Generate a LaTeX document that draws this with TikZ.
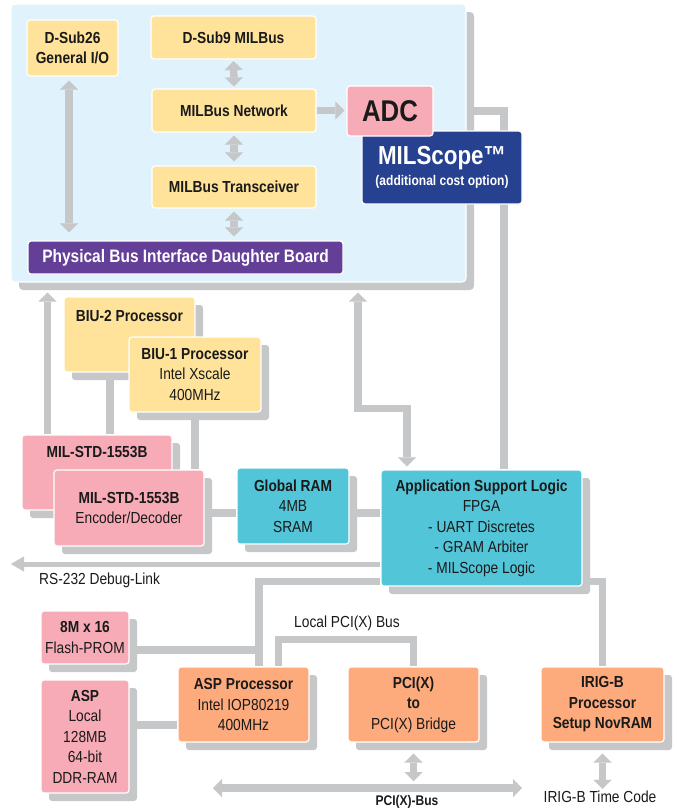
\documentclass[tikz,border=0pt]{standalone}
\usepackage{fontspec}
\setmainfont[FakeStretch=0.86]{Liberation Sans}
\usetikzlibrary{arrows.meta,shadows}
\definecolor{panelblue}{HTML}{E0F2FC}
\definecolor{boxyellow}{HTML}{FFE39B}
\definecolor{boxpink}{HTML}{F7ABB6}
\definecolor{boxteal}{HTML}{53C5D9}
\definecolor{boxorange}{HTML}{FDAA7D}
\definecolor{boardpurple}{HTML}{633F97}
\definecolor{scopeblue}{HTML}{26418F}
\definecolor{linegray}{HTML}{C6C7C9}
\definecolor{txtblack}{HTML}{1A1A1A}
\pgfdeclarelayer{panellayer}
\pgfdeclarelayer{linelayer}
\pgfsetlayers{panellayer,linelayer,main}
\tikzset{
	blk/.style={rounded corners=3pt, draw=white, line width=1.2pt, align=center, inner sep=1pt, text=txtblack, font=\fontsize{16}{20.5}\selectfont},
	shd/.style={drop shadow={shadow xshift=8pt, shadow yshift=-8pt, fill=linegray, opacity=1}},
	lbl/.style={text=txtblack, inner sep=1pt, font=\fontsize{16}{20.5}\selectfont},
	lblb/.style={lbl, font=\fontsize{16}{20.5}\selectfont\bfseries},
	gline/.style={draw=linegray, line width=7.5pt},
	dbl/.style={gline, {Triangle[width=18pt,length=9pt,line width=0.01pt]}-{Triangle[width=18pt,length=9pt,line width=0.01pt]}},
	sgl/.style={gline, -{Triangle[width=18pt,length=9pt,line width=0.01pt]}},
}

\begin{document}
\begin{tikzpicture}[x=1pt,y=-1pt]
			%%%%% START %%%%%
			\useasboundingbox (0,0) rectangle (678,809);
			
			% daughter board panel
			\begin{pgfonlayer}{panellayer}
				\node[rounded corners=4pt, fill=panelblue, draw=white, line width=1.2pt, shd, minimum width=455, minimum height=278] (panel) at (238.5,143) {};
			\end{pgfonlayer}
			
			\node[blk, fill=boxyellow, minimum width=91, minimum height=56] (dsub26) at (72.5,48) {\textbf{D-Sub26}\\\textbf{General I/O}};
			\node[blk, fill=boxyellow, minimum width=165, minimum height=43] (dsub9) at (233.5,37.5) {\textbf{D-Sub9 MILBus}};
			\node[blk, fill=boxyellow, minimum width=164, minimum height=43] (milnet) at (234,110.5) {\textbf{MILBus Network}};
			\node[blk, fill=boxyellow, minimum width=164, minimum height=42] (miltrx) at (234,187) {\textbf{MILBus Transceiver}};
			\node[blk, fill=boardpurple, text=white, minimum width=315, minimum height=33, font=\fontsize{18}{20}\selectfont\bfseries] (pbidb) at (185.5,257.5) {Physical Bus Interface Daughter Board};
			
			\node[blk, fill=scopeblue, text=white, minimum width=160, minimum height=73] (milscope) at (442,167.5) {{\fontsize{26}{26}\selectfont\bfseries MILScope™}\\[1pt]{\fontsize{14}{16}\selectfont\bfseries (additional cost option)}};
			\node[blk, fill=boxpink, minimum width=86, minimum height=50, font=\fontsize{30}{30}\selectfont\bfseries] (adc) at (390,111) {ADC};
			
			% processors
			\node[blk, shd, fill=boxyellow, minimum width=131, minimum height=75] (biu2) at (129.5,334.5) {};
			\node[lblb] (biu2txt) at ([yshift=-20pt]biu2.north) {BIU-2 Processor};
			\node[blk, shd, fill=boxyellow, minimum width=132, minimum height=75] (biu1) at (195,374.5) {\textbf{BIU-1 Processor}\\Intel Xscale\\400MHz};
			
			\node[blk, shd, fill=boxpink, minimum width=150, minimum height=75] (milb) at (97,472.5) {};
			\node[lblb] (milbtxt) at ([yshift=-18pt]milb.north) {MIL-STD-1553B};
			\node[blk, shd, fill=boxpink, minimum width=150, minimum height=76] (mila) at (129,508) {\textbf{MIL-STD-1553B}\\Encoder/Decoder};
			
			\node[blk, shd, fill=boxteal, minimum width=112, minimum height=76] (gram) at (293,506) {\textbf{Global RAM}\\4MB\\SRAM};
			\node[blk, shd, fill=boxteal, minimum width=201, minimum height=116] (asl) at (481.5,528) {\textbf{Application Support Logic}\\FPGA\\- UART Discretes\\- GRAM Arbiter\\- MILScope Logic};
			
			% lower row
			\node[blk, shd, fill=boxpink, minimum width=88, minimum height=53] (flash) at (85,637.5) {\textbf{8M x 16}\\Flash-PROM};
			\node[blk, shd, fill=boxpink, minimum width=88, minimum height=113] (ddr) at (85,736.5) {\textbf{ASP}\\Local\\128MB\\64-bit\\DDR-RAM};
			\node[blk, shd, fill=boxorange, minimum width=131, minimum height=75] (asp) at (243.5,704.5) {\textbf{ASP Processor}\\Intel IOP80219\\400MHz};
			\node[blk, shd, fill=boxorange, minimum width=131, minimum height=75] (bridge) at (413.5,704.5) {\textbf{PCI(X)}\\\textbf{to}\\PCI(X) Bridge};
			\node[blk, shd, fill=boxorange, minimum width=123, minimum height=75] (irig) at (602.5,704.5) {\textbf{IRIG-B}\\\textbf{Processor}\\\textbf{Setup NovRAM}};
			
			\node[lbl, anchor=west] (rstxt) at (38,580) {RS-232 Debug-Link};
			\node[lbl] (pcitxt) at (347,623) {Local PCI(X) Bus};
			\node[lbl] (tcode) at (600,797) {IRIG-B Time Code};
			\node[lblb, font=\fontsize{14}{16}\selectfont\bfseries, inner sep=0pt, anchor=south] (pcibus) at (407,808.5) {PCI(X)-Bus};
			
			\coordinate (rsend) at (11,564);
			\coordinate (pcil) at (213,788);
			\coordinate (pcir) at (522,788);
			
			% connectors
			\begin{pgfonlayer}{linelayer}
				\draw[dbl, shorten <=4pt, shorten >=8pt] ([xshift=-3.5pt]dsub26.south) -- ([xshift=-3.5pt]dsub26.south |- pbidb.north);
				\draw[dbl, shorten <=1.5pt, shorten >=2pt] (dsub9.south) -- (milnet.north);
				\draw[dbl, shorten <=3pt, shorten >=4pt] (milnet.south) -- (miltrx.north);
				\draw[dbl, shorten <=3pt, shorten >=4pt] (miltrx.south) -- (miltrx.south |- pbidb.north);
				\draw[sgl, shorten <=0pt, shorten >=2pt] (milnet.east) -- (milnet.east -| adc.west);
				\draw[gline] (panel.east |- adc.center) -| ([xshift=22.5pt]asl.north);
				
				\coordinate (upl) at ([xshift=-49.5pt]milb.north);
				\draw[sgl, shorten >=10pt] (upl) -- (upl |- panel.south);
				\coordinate (b2) at ([xshift=-19.5pt]biu2.south);
				\draw[gline] (b2) -- (b2 |- milb.north);
				\draw[gline] (biu1.south) -- (biu1.south |- mila.north);
				
				\coordinate (mg) at ([yshift=-7pt]gram.west);
				\draw[gline] (mila.east |- mg) -- (mg);
				\draw[gline] (gram.east |- mg) -- (asl.west |- mg);
				
				\coordinate (pu) at ([xshift=119.5pt]panel.south);
				\draw[dbl, shorten <=10pt, shorten >=3pt] (pu) -- ++(0,126) -| ([xshift=-74.5pt]asl.north);
				
				\draw[draw=linegray, line width=5pt, -{Triangle[width=15pt,length=13pt,line width=0.01pt]}] ([yshift=-36pt]asl.west) -- (rsend);
				
				\coordinate (aslb) at ([yshift=5pt]asl.south west);
				\coordinate (aspin) at ([xshift=15.5pt]asp.north);
				\draw[gline] (aslb) -| (aspin);
				\coordinate (fl) at ([yshift=-12.5pt]flash.east);
				\draw[gline] (fl) -- (fl -| aspin);
				\coordinate (ap) at ([yshift=-20.5pt]asp.west);
				\draw[gline] (ddr.east |- ap) -- (ap);
				\draw[gline] ([xshift=35pt]asp.north) -- ++(0,-27) -| (bridge.north);
				\draw[gline] ([yshift=5pt]asl.south east) -| (irig.north);
				
				\draw[dbl, shorten <=11pt, shorten >=7pt] (bridge.south) -- (bridge.south |- pcil);
				\draw[dbl, shorten <=11pt, shorten >=1pt] (irig.south) -- (irig.south |- tcode.north);
				\draw[dbl] (pcil) -- (pcir);
			\end{pgfonlayer}
			%%%%% END %%%%%
\end{tikzpicture}
\end{document}
